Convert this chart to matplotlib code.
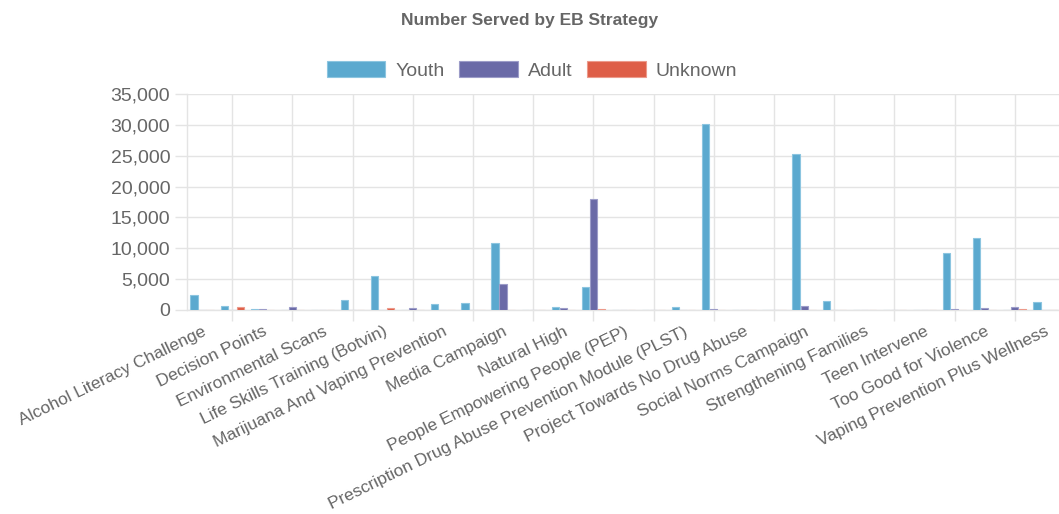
import matplotlib
matplotlib.use("Agg")
import matplotlib.pyplot as plt
import numpy as np
from matplotlib.ticker import FuncFormatter, FixedLocator

plt.rcParams['font.family'] = ['Liberation Sans', 'DejaVu Sans']

# Shown category labels (every other category is labelled on the axis)
shown_labels = [
    "Alcohol Literacy Challenge", "Decision Points", "Environmental Scans",
    "Life Skills Training (Botvin)", "Marijuana And Vaping Prevention",
    "Media Campaign", "Natural High", "People Empowering People (PEP)",
    "Prescription Drug Abuse Prevention Module (PLST)",
    "Project Towards No Drug Abuse", "Social Norms Campaign",
    "Strengthening Families", "Teen Intervene", "Too Good for Violence",
    "Vaping Prevention Plus Wellness",
]

# Values for all 29 categories (odd ones have hidden labels)
youth = [2450, 600, 100, 50, 0, 1600, 5500, 80, 1050, 1100, 10900, 0, 550, 3650, 0,
         50, 550, 30200, 50, 80, 25300, 1400, 30, 50, 50, 9300, 11600, 50, 1350]
adult = [0, 50, 100, 450, 0, 0, 50, 250, 50, 0, 4250, 80, 300, 18050, 80,
         0, 80, 100, 0, 0, 700, 50, 50, 0, 60, 100, 300, 450, 0]
unknown = [0, 500, 0, 0, 0, 0, 400, 0, 0, 0, 0, 0, 0, 150, 0,
           0, 0, 0, 0, 0, 0, 0, 60, 0, 0, 0, 0, 100, 0]

series = [("Youth", youth, "#5ba9cf", "#8cc5e0"),
          ("Adult", adult, "#6a6aa7", "#9c9cc8"),
          ("Unknown", unknown, "#de5e47", "#ec9a8b")]

n = len(youth)
x = np.arange(n)

fig = plt.figure(figsize=(10.59, 5.14), dpi=100)
ax = fig.add_axes([187/1059, 1-310/514, (1060-187)/1059, (310-94)/514])

slot = 0.8 / 3
bw = slot * 0.9
for k, (name, vals, col, edge) in enumerate(series):
    ax.bar(x + (k - 1) * slot, vals, width=bw, color=col, edgecolor=edge,
           linewidth=0.8, label=name, zorder=3)

grid_c = "#e4e4e4"
text_c = "#666666"

ax.set_xlim(-0.5, n - 0.5)
ax.set_ylim(0, 35000)
ax.set_yticks(np.arange(0, 35001, 5000))
ax.yaxis.set_major_formatter(FuncFormatter(lambda v, p: f"{int(v):,}"))
ax.tick_params(axis='y', length=8.5, color=grid_c, width=1, pad=3.5,
               labelsize=14, labelcolor=text_c)
ax.grid(axis='y', color=grid_c, linewidth=1, zorder=0)

major_pos = list(range(0, n, 2))
ax.set_xticks(major_pos)
ax.set_xticklabels(shown_labels, rotation=26, ha='right', va='top',
                   rotation_mode='anchor')
ax.xaxis.set_minor_locator(FixedLocator(list(range(1, n, 2))))
ax.tick_params(axis='x', which='major', length=0, pad=10, labelsize=12.5,
               labelcolor=text_c)
ax.tick_params(axis='x', which='minor', length=8, color=grid_c, width=1)
ax.grid(axis='x', which='minor', color=grid_c, linewidth=1, zorder=0)

for s in ['top', 'right']:
    ax.spines[s].set_visible(False)
for s in ['left', 'bottom']:
    ax.spines[s].set_color(grid_c)
    ax.spines[s].set_linewidth(1)

fig.text(530/1059, 1-20/514, "Number Served by EB Strategy", ha='center',
         va='center', fontsize=12.5, fontweight='bold', color=text_c)

leg = fig.legend(loc='center', bbox_to_anchor=(532/1059, 1-70.5/514), ncol=3,
                 frameon=False, fontsize=14, handlelength=3.0, handleheight=0.85,
                 handletextpad=0.52, columnspacing=0.77, labelcolor=text_c)

fig.savefig("out.png", dpi=100)
